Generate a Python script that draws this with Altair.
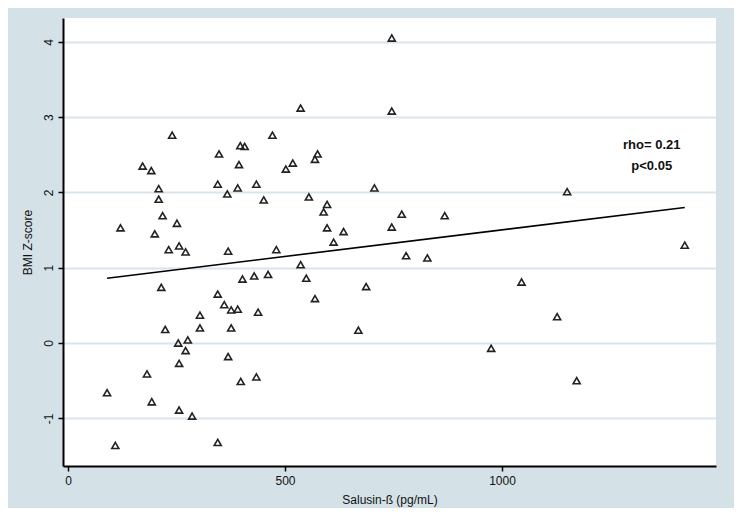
import altair as alt
import pandas as pd

# Scatter data: Salusin-ß (pg/mL) vs BMI Z-score
salusin = [240, 172, 192, 209, 209, 218, 121, 251, 200, 232, 256, 271, 369, 348, 397, 407, 394, 345, 367, 391,
           215, 402, 345, 360, 376, 391, 304, 304, 376, 224, 254, 276, 271, 256, 369, 182, 90, 398, 193, 256,
           286, 109, 345,
           746, 536, 746, 471, 575, 569, 518, 502, 434, 706, 451, 555, 597, 589, 769, 868, 597, 635, 746, 612,
           480, 779, 828,
           536, 429, 461, 549, 687, 569, 438, 669, 975, 434,
           1150, 1421, 1045, 1127, 1172]
bmi_z = [2.76, 2.35, 2.29, 2.05, 1.91, 1.69, 1.53, 1.59, 1.45, 1.24, 1.29, 1.21, 1.22, 2.51, 2.62, 2.61, 2.37, 2.11, 1.98, 2.06,
         0.74, 0.85, 0.65, 0.51, 0.44, 0.45, 0.37, 0.20, 0.20, 0.18, 0.00, 0.04, -0.10, -0.27, -0.18, -0.41, -0.66, -0.51, -0.78, -0.89,
         -0.97, -1.36, -1.32,
         4.05, 3.12, 3.08, 2.76, 2.51, 2.44, 2.39, 2.31, 2.11, 2.06, 1.90, 1.94, 1.84, 1.74, 1.71, 1.69, 1.53, 1.48, 1.54, 1.34,
         1.24, 1.16, 1.13,
         1.04, 0.89, 0.91, 0.86, 0.75, 0.59, 0.41, 0.17, -0.07, -0.45,
         2.01, 1.30, 0.81, 0.35, -0.50]

# Fitted line end points
fit_x = [90, 1421]
fit_y = [0.86, 1.80]

# Annotation
ann_text = ["rho= 0.21", "p<0.05"]
ann_x = [1345, 1345]
ann_y = [2.63, 2.35]

x_ticks = [0, 500, 1000]
y_ticks = [-1, 0, 1, 2, 3, 4]

FONT = "Liberation Sans"

pts = pd.DataFrame({"x": salusin, "y": bmi_z})
fit = pd.DataFrame({"x": fit_x, "y": fit_y})
ann = pd.DataFrame({"x": ann_x, "y": ann_y, "t": ann_text})

xscale = alt.Scale(domain=[-11.5, 1493], nice=False, zero=False)
yscale = alt.Scale(domain=[-1.633, 4.316], nice=False, zero=False)

xaxis = alt.Axis(values=x_ticks, labelExpr="'' + datum.value", title="Salusin-ß (pg/mL)", grid=False,
                 tickSize=5, tickWidth=1.5, tickColor="#000", domainColor="#000", domainWidth=2,
                 labelFont=FONT, labelFontSize=12, labelColor="#111", labelPadding=4,
                 titleFont=FONT, titleFontSize=12, titleFontWeight="normal", titleColor="#111",
                 titlePadding=8)
yaxis = alt.Axis(values=y_ticks, labelExpr="'' + datum.value", title="BMI Z-score", grid=True,
                 gridColor="#d9e5ea", gridWidth=2,
                 tickSize=5, tickWidth=1.5, tickColor="#000", domainColor="#000", domainWidth=2,
                 labelAngle=270, labelAlign="center", labelBaseline="bottom",
                 labelFont=FONT, labelFontSize=12, labelColor="#111", labelPadding=3,
                 titleFont=FONT, titleFontSize=12, titleFontWeight="normal", titleColor="#111",
                 titlePadding=8)

points = alt.Chart(pts).mark_point(shape="triangle-up", filled=False, size=50,
                                   stroke="#222", strokeWidth=1.6, opacity=1).encode(
    x=alt.X("x:Q", scale=xscale, axis=xaxis),
    y=alt.Y("y:Q", scale=yscale, axis=yaxis),
)

line = alt.Chart(fit).mark_line(color="#000", strokeWidth=1.6).encode(
    x=alt.X("x:Q", scale=xscale),
    y=alt.Y("y:Q", scale=yscale),
)

text = alt.Chart(ann).mark_text(font=FONT, fontSize=13, fontWeight="bold", color="#111",
                                align="center", baseline="middle").encode(
    x=alt.X("x:Q", scale=xscale),
    y=alt.Y("y:Q", scale=yscale),
    text="t:N",
)

chart = alt.layer(points, line, text).properties(
    width=653, height=448,
    background="#d4e1e7",
    autosize=alt.AutoSizeParams(type="none"),
    padding={"left": 55, "top": 10, "right": 18, "bottom": 42},
).configure_view(fill="white", stroke=None)

chart.save("out.html", embed_options={"renderer": "svg", "actions": False})
